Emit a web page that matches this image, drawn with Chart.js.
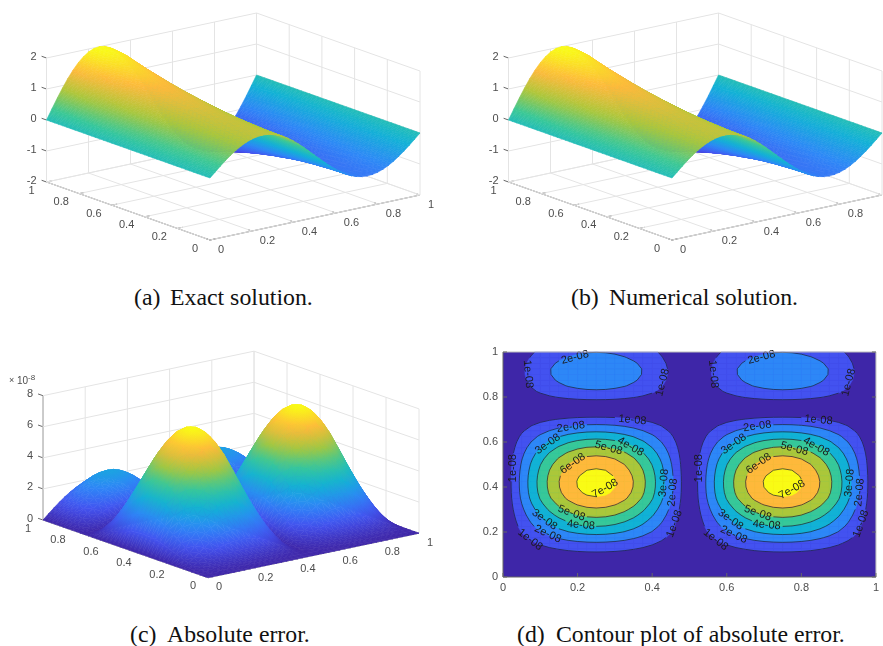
<!DOCTYPE html>
<html>
<head>
<meta charset="utf-8">
<script src="https://cdn.jsdelivr.net/npm/chart.js@4"></script>
<style>
    body { margin: 0; background: #fff; width: 883px; height: 646px; overflow: hidden; position: relative; }
    canvas { position: absolute; }
    #exact-chart { left: 0; top: 0; }
    #numeric-chart { left: 462px; top: 0; }
    #error-chart { left: 0; top: 345px; }
    #contour-chart { left: 470px; top: 340px; }
    .cap { position: absolute; font: 23.8px "Liberation Serif", serif; color: #111; white-space: pre; line-height: 28px; }
</style>
</head>
<body>
<canvas id="exact-chart" width="441" height="270"></canvas>
<canvas id="numeric-chart" width="421" height="270"></canvas>
<canvas id="error-chart" width="441" height="260"></canvas>
<canvas id="contour-chart" width="413" height="265"></canvas>
<span class="cap" style="left:134px;top:283px">(a)</span><span class="cap" style="left:170px;top:283px">Exact solution.</span>
<span class="cap" style="left:571px;top:283px">(b)</span><span class="cap" style="left:609px;top:283px">Numerical solution.</span>
<span class="cap" style="left:130px;top:620px">(c)</span><span class="cap" style="left:167px;top:620px">Absolute error.</span>
<span class="cap" style="left:517px;top:620px">(d)</span><span class="cap" style="left:556px;top:620px">Contour plot of absolute error.</span>
<script>
// values, grid step is 0.025 on both axes
const gridX = [0, .025, .05, .075, .1, .125, .15, .175, .2, .225, .25, .275, .3, .325, .35, .375, .4, .425, .45, .475, .5, .525, .55, .575, .6, .625, .65, .675, .7, .725, .75, .775, .8, .825, .85, .875, .9, .925, .95, .975, 1];
const gridY = gridX;
// solution along x, at unit amplitude
const solutionShape = [0, .156, .309, .454, .588, .707, .809, .891, .951, .988, 1, .988, .951, .891, .809, .707, .588, .454, .309, .156, 0, -.156, -.309, -.454, -.588, -.707, -.809, -.891, -.951, -.988, -1, -.988, -.951, -.891, -.809, -.707, -.588, -.454, -.309, -.156, 0];
// ridge height along y
const solutionAmp = [1.02, 1.02, 1.02, 1.03, 1.03, 1.04, 1.05, 1.06, 1.07, 1.08, 1.09, 1.11, 1.12, 1.14, 1.16, 1.18, 1.2, 1.23, 1.25, 1.28, 1.3, 1.33, 1.36, 1.39, 1.42, 1.45, 1.49, 1.52, 1.56, 1.6, 1.64, 1.68, 1.72, 1.76, 1.81, 1.85, 1.9, 1.95, 1.97, 1.99, 2];
// error along x, at unit amplitude
const errorShape = [0, .156, .309, .454, .588, .707, .809, .891, .951, .988, 1, .988, .951, .891, .809, .707, .588, .454, .309, .156, 0, .156, .309, .454, .588, .707, .809, .891, .951, .988, 1, .988, .951, .891, .809, .707, .588, .454, .309, .156, 0];
// error along y at x = 0.25, in units of 1e-8
const errorAmp = [0, .05, .18, .42, .78, 1.28, 1.88, 2.6, 3.33, 4, 4.62, 5.25, 5.85, 6.42, 6.92, 7.22, 7.37, 7.4, 7.3, 7.08, 6.75, 6.3, 5.75, 5.1, 4.4, 3.65, 2.85, 2.08, 1.3, .58, .05, .68, 1.3, 1.88, 2.3, 2.6, 2.77, 2.78, 2.6, 2.3, 1.98];

const axisTicks = [0, .2, .4, .6, .8, 1];
const solutionZTicks = [-2, -1, 0, 1, 2];
const errorZTicks = [0, 2, 4, 6, 8];
const contourLevels = [1, 2, 3, 4, 5, 6, 7];
const contourColors = ["#3e26a8", "#4352f0", "#2d87f7", "#11b2d5", "#37c899", "#abc73a", "#feb93b", "#f9fb15"];

const labelText = ["2e-08", "1e-08", "1e-08", "1e-08", "2e-08", "3e-08", "5e-08", "4e-08", "6e-08", "1e-08", "7e-08", "3e-08", "2e-08", "5e-08", "4e-08", "3e-08", "2e-08", "1e-08", "1e-08",
    "2e-08", "1e-08", "1e-08", "1e-08", "2e-08", "3e-08", "5e-08", "4e-08", "6e-08", "1e-08", "7e-08", "3e-08", "2e-08", "5e-08", "4e-08", "3e-08", "2e-08", "1e-08", "1e-08"];
const labelX = [.193, .067, .428, .347, .182, .12, .283, .342, .187, .027, .274, .431, .455, .184, .209, .111, .12, .073, .46,
    .693, .564, .927, .846, .682, .619, .781, .84, .686, .525, .775, .929, .956, .683, .707, .61, .619, .57, .96];
const labelY = [.976, .902, .865, .698, .667, .591, .573, .579, .504, .484, .393, .418, .376, .284, .231, .255, .191, .166, .237,
    .976, .902, .865, .698, .67, .591, .57, .579, .504, .484, .388, .418, .376, .284, .231, .255, .188, .166, .237];
const labelAngle = [-15, 85, -75, 5, -8, -35, 15, 30, -35, -90, -30, -85, -85, 20, 5, 35, 25, 38, -70,
    -15, 85, -75, 5, -8, -35, 15, 30, -35, -90, -30, -85, -85, 20, 5, 35, 25, 38, -70];

const parula = [[62, 38, 168], [67, 82, 240], [45, 135, 247], [17, 178, 213], [55, 200, 153], [171, 199, 58], [254, 185, 59], [249, 251, 21]];

function parulaColor(t) {
    const p = Math.min(Math.max(t, 0), 1) * (parula.length - 1);
    const i = Math.min(Math.floor(p), parula.length - 2);
    const f = p - i;
    const c = parula[i].map((v, k) => Math.round(v + (parula[i + 1][k] - v) * f));
    return "rgb(" + c.join(",") + ")";
}

const tickColor = "#4d4d4d";
const tickFont = '11px "Liberation Sans", sans-serif';

// one triangle with a screen space gradient, so the colour runs smooth over the mesh
function drawTriangle(ctx, p, z, toColor) {
    const det = (p[1].x - p[0].x) * (p[2].y - p[0].y) - (p[2].x - p[0].x) * (p[1].y - p[0].y);
    const lo = Math.min(z[0], z[1], z[2]);
    const hi = Math.max(z[0], z[1], z[2]);
    let paint = toColor((z[0] + z[1] + z[2]) / 3);
    if (Math.abs(det) > 0.5 && hi > lo) {
        const dz1 = z[1] - z[0];
        const dz2 = z[2] - z[0];
        const gx = (dz1 * (p[2].y - p[0].y) - dz2 * (p[1].y - p[0].y)) / det;
        const gy = (dz2 * (p[1].x - p[0].x) - dz1 * (p[2].x - p[0].x)) / det;
        const g2 = gx * gx + gy * gy;
        const grad = ctx.createLinearGradient(
            p[0].x + (gx * (lo - z[0])) / g2,
            p[0].y + (gy * (lo - z[0])) / g2,
            p[0].x + (gx * (hi - z[0])) / g2,
            p[0].y + (gy * (hi - z[0])) / g2
        );
        grad.addColorStop(0, toColor(lo));
        grad.addColorStop(1, toColor(hi));
        paint = grad;
    }
    ctx.fillStyle = paint;
    ctx.strokeStyle = paint;
    ctx.beginPath();
    ctx.moveTo(p[0].x, p[0].y);
    ctx.lineTo(p[1].x, p[1].y);
    ctx.lineTo(p[2].x, p[2].y);
    ctx.closePath();
    ctx.fill();
    ctx.stroke();
}

function surfaceChart(id, zValues, view, zTicks) {
    const project = (x, y, z) => ({
        x: view.ox + view.ax * x + view.bx * y,
        y: view.oy + view.ay * x + view.by * y - (z - view.zMin) * view.zScale,
    });
    const zMax = zTicks[zTicks.length - 1];
    const datasets = [];
    const addLine = (a, b, color, width) => {
        datasets.push({
            data: [project(a[0], a[1], a[2]), project(b[0], b[1], b[2])],
            borderColor: color,
            borderWidth: width,
            pointRadius: 0,
            showLine: true,
        });
    };
    const grid = "#e4e4e4";
    const axis = "#666";
    axisTicks.forEach((t) => {
        addLine([t, 0, view.zMin], [t, 1, view.zMin], grid, 1);
        addLine([t, 1, view.zMin], [t, 1, zMax], grid, 1);
        addLine([0, t, view.zMin], [1, t, view.zMin], grid, 1);
        addLine([1, t, view.zMin], [1, t, zMax], grid, 1);
    });
    zTicks.forEach((z) => {
        addLine([0, 1, z], [1, 1, z], grid, 1);
        addLine([1, 1, z], [1, 0, z], grid, 1);
    });
    addLine([0, 0, view.zMin], [1, 0, view.zMin], axis, 1);
    addLine([0, 0, view.zMin], [0, 1, view.zMin], axis, 1);
    addLine([0, 1, view.zMin], [0, 1, zMax], axis, 1);
    axisTicks.forEach((t) => {
        addLine([t, 0, view.zMin], [t, 0.025, view.zMin], axis, 1);
        addLine([0, t, view.zMin], [0.025, t, view.zMin], axis, 1);
    });
    zTicks.forEach((z) => addLine([0, 1, z], [0, 1.03, z], axis, 1));

    // the surface itself, its points go through the scales like everything else
    const surfacePoints = [];
    gridX.forEach((x, i) => gridY.forEach((y, j) => surfacePoints.push(project(x, y, zValues[i][j]))));
    const surfaceIndex = datasets.length;
    datasets.push({ data: surfacePoints, pointRadius: 0, showLine: false });

    const zLow = Math.min(...zValues.flat());
    const zHigh = Math.max(...zValues.flat());
    const toColor = (z) => parulaColor((z - zLow) / (zHigh - zLow));

    const surfacePlugin = {
        id: "surface",
        afterDatasetsDraw(chart) {
            const pts = chart.getDatasetMeta(surfaceIndex).data;
            const ctx = chart.ctx;
            const n = gridY.length;
            ctx.save();
            ctx.lineWidth = 0.6;
            ctx.lineJoin = "round";
            // far corner first
            for (let i = gridX.length - 2; i >= 0; i--) {
                for (let j = n - 2; j >= 0; j--) {
                    const a = pts[i * n + j];
                    const b = pts[(i + 1) * n + j];
                    const c = pts[(i + 1) * n + j + 1];
                    const d = pts[i * n + j + 1];
                    const za = zValues[i][j];
                    const zb = zValues[i + 1][j];
                    const zc = zValues[i + 1][j + 1];
                    const zd = zValues[i][j + 1];
                    drawTriangle(ctx, [b, c, d], [zb, zc, zd], toColor);
                    drawTriangle(ctx, [a, b, d], [za, zb, zd], toColor);
                }
            }
            // tick labels
            const sx = chart.scales.x;
            const sy = chart.scales.y;
            ctx.fillStyle = tickColor;
            ctx.font = tickFont;
            ctx.textBaseline = "middle";
            ctx.textAlign = "center";
            axisTicks.forEach((t) => {
                const single = t === 0 || t === 1;
                const px = project(t, 0, view.zMin);
                const lx = sx.getPixelForValue(px.x) + (single ? 11 : 15.5);
                if (lx < chart.width - 8) ctx.fillText(String(t), lx, sy.getPixelForValue(px.y) + 9.5);
                const py = project(0, t, view.zMin);
                ctx.fillText(String(t), sx.getPixelForValue(py.x) - (single ? 15 : 18), sy.getPixelForValue(py.y) + 8.5);
            });
            ctx.textAlign = "right";
            zTicks.forEach((z) => {
                const p = project(0, 1, z);
                ctx.fillText(String(z), sx.getPixelForValue(p.x) - 10, sy.getPixelForValue(p.y) - 1.5);
            });
            if (view.exponent) {
                ctx.textAlign = "left";
                ctx.font = '9px "Liberation Sans", sans-serif';
                ctx.fillText("×", 9, 36);
                ctx.font = '10px "Liberation Sans", sans-serif';
                ctx.fillText("10", 17, 36);
                ctx.font = '8px "Liberation Sans", sans-serif';
                ctx.fillText("-8", 28, 33);
            }
            ctx.restore();
        },
    };

    const canvas = document.getElementById(id);
    return new Chart(canvas, {
        type: "scatter",
        data: { datasets: datasets },
        options: {
            responsive: false,
            animation: false,
            events: [],
            layout: { padding: 0 },
            scales: {
                x: { type: "linear", display: false, min: 0, max: canvas.width },
                y: { type: "linear", display: false, min: 0, max: canvas.height, reverse: true },
            },
            plugins: { legend: { display: false }, tooltip: { enabled: false } },
        },
        plugins: [surfacePlugin],
    });
}

const solutionValues = solutionShape.map((s) => solutionAmp.map((a) => s * a));
const errorValues = errorShape.map((s) => errorAmp.map((a) => s * a));

surfaceChart("exact-chart", solutionValues, { ox: 210, oy: 240, ax: 210, ay: -45, bx: -163.5, by: -58, zMin: -2, zScale: 31 }, solutionZTicks);
surfaceChart("numeric-chart", solutionValues, { ox: 210, oy: 240, ax: 210, ay: -45, bx: -163.5, by: -58, zMin: -2, zScale: 31 }, solutionZTicks);
surfaceChart("error-chart", errorValues, { ox: 208, oy: 232.7, ax: 211, ay: -44.5, bx: -165, by: -57.7, zMin: 0, zScale: 15.54, exponent: true }, errorZTicks);

// filled contours, cell by cell
const contourPlugin = {
    id: "contours",
    beforeDatasetsDraw(chart) {
        const { ctx, chartArea, scales } = chart;
        const px = (v) => scales.x.getPixelForValue(v);
        const py = (v) => scales.y.getPixelForValue(v);
        ctx.save();
        ctx.fillStyle = contourColors[0];
        ctx.fillRect(chartArea.left, chartArea.top, chartArea.width, chartArea.height);
        const segments = [];
        contourLevels.forEach((level, k) => {
            ctx.fillStyle = contourColors[k + 1];
            ctx.strokeStyle = contourColors[k + 1];
            ctx.lineWidth = 0.5;
            for (let i = 0; i < gridX.length - 1; i++) {
                for (let j = 0; j < gridY.length - 1; j++) {
                    const corners = [
                        [gridX[i], gridY[j], errorValues[i][j]],
                        [gridX[i + 1], gridY[j], errorValues[i + 1][j]],
                        [gridX[i + 1], gridY[j + 1], errorValues[i + 1][j + 1]],
                        [gridX[i], gridY[j + 1], errorValues[i][j + 1]],
                    ];
                    const poly = [];
                    const cross = [];
                    corners.forEach((a, n) => {
                        const b = corners[(n + 1) % 4];
                        if (a[2] >= level) poly.push([a[0], a[1]]);
                        if ((a[2] >= level) !== (b[2] >= level)) {
                            const f = (level - a[2]) / (b[2] - a[2]);
                            const c = [a[0] + (b[0] - a[0]) * f, a[1] + (b[1] - a[1]) * f];
                            poly.push(c);
                            cross.push(c);
                        }
                    });
                    if (poly.length < 3) continue;
                    ctx.beginPath();
                    poly.forEach((p, n) => (n ? ctx.lineTo(px(p[0]), py(p[1])) : ctx.moveTo(px(p[0]), py(p[1]))));
                    ctx.closePath();
                    ctx.fill();
                    ctx.stroke();
                    if (cross.length === 2) segments.push(cross);
                }
            }
        });
        // lines break under the inline labels
        const hidden = (mx, my) => labelText.some((t, n) => {
            const dx = mx - px(labelX[n]);
            const dy = my - py(labelY[n]);
            const r = (labelAngle[n] * Math.PI) / 180;
            const u = dx * Math.cos(r) + dy * Math.sin(r);
            const v = -dx * Math.sin(r) + dy * Math.cos(r);
            return Math.abs(u) < 15 && Math.abs(v) < 6;
        });
        ctx.strokeStyle = "#1c1c30";
        ctx.lineWidth = 0.7;
        ctx.beginPath();
        segments.forEach((s) => {
            const x1 = px(s[0][0]), y1 = py(s[0][1]), x2 = px(s[1][0]), y2 = py(s[1][1]);
            if (hidden((x1 + x2) / 2, (y1 + y2) / 2)) return;
            ctx.moveTo(x1, y1);
            ctx.lineTo(x2, y2);
        });
        ctx.stroke();
        ctx.fillStyle = "#1a1a1a";
        ctx.font = '11px "Liberation Sans", sans-serif';
        ctx.textAlign = "center";
        ctx.textBaseline = "middle";
        labelText.forEach((t, n) => {
            ctx.save();
            ctx.translate(px(labelX[n]), py(labelY[n]));
            ctx.rotate((labelAngle[n] * Math.PI) / 180);
            ctx.fillText(t, 0, 0);
            ctx.restore();
        });
        ctx.restore();
    },
    afterDraw(chart) {
        const { ctx, chartArea, scales } = chart;
        ctx.save();
        ctx.strokeStyle = "#bbb";
        ctx.lineWidth = 1;
        ctx.beginPath();
        ctx.moveTo(chartArea.left, chartArea.top);
        ctx.lineTo(chartArea.right, chartArea.top);
        ctx.lineTo(chartArea.right, chartArea.bottom);
        ctx.stroke();
        ctx.strokeStyle = "#666";
        ctx.beginPath();
        ctx.moveTo(chartArea.left, chartArea.top);
        ctx.lineTo(chartArea.left, chartArea.bottom);
        ctx.lineTo(chartArea.right, chartArea.bottom);
        axisTicks.forEach((t) => {
            const x = scales.x.getPixelForValue(t);
            const y = scales.y.getPixelForValue(t);
            ctx.moveTo(x, chartArea.bottom);
            ctx.lineTo(x, chartArea.bottom - 4);
            ctx.moveTo(chartArea.left, y);
            ctx.lineTo(chartArea.left + 4, y);
            ctx.moveTo(chartArea.right, y);
            ctx.lineTo(chartArea.right - 4, y);
        });
        ctx.stroke();
        ctx.restore();
    },
};

const contourAxis = {
    type: "linear",
    min: 0,
    max: 1,
    grid: { display: false, drawTicks: false },
    border: { display: false },
    ticks: {
        stepSize: 0.2,
        color: tickColor,
        maxRotation: 0,
        font: { family: "Liberation Sans", size: 11 },
        callback: (v) => String(Math.round(v * 10) / 10),
    },
};

new Chart(document.getElementById("contour-chart"), {
    type: "scatter",
    data: {
        datasets: [
            {
                data: gridX.flatMap((x, i) => gridY.map((y, j) => ({ x: x, y: y, v: errorValues[i][j] }))),
                pointRadius: 0,
                showLine: false,
            },
        ],
    },
    options: {
        responsive: false,
        animation: false,
        events: [],
        layout: { padding: { top: 12, right: 6 } },
        scales: {
            x: { ...contourAxis, ticks: { ...contourAxis.ticks, padding: 4 }, afterFit: (s) => { s.height = 28; } },
            y: { ...contourAxis, ticks: { ...contourAxis.ticks, padding: 5 }, afterFit: (s) => { s.width = 33; } },
        },
        plugins: { legend: { display: false }, tooltip: { enabled: false } },
    },
    plugins: [contourPlugin],
});
</script>
</body>
</html>
